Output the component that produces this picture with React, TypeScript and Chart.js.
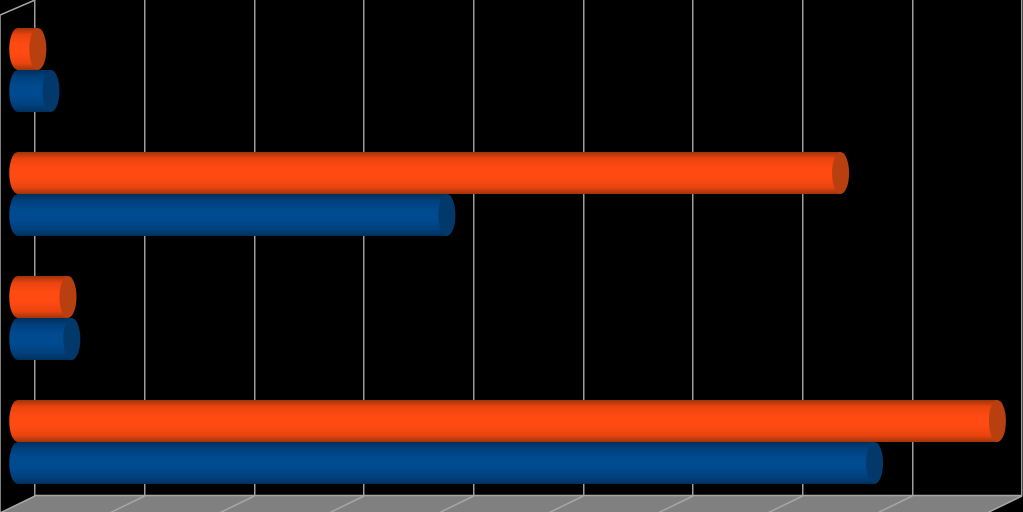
import React, { useEffect, useRef } from 'react';
import Chart from 'chart.js/auto';

// the source chart shows no labels, so categories and units are placeholders
const categories = ['Group 1', 'Group 2', 'Group 3', 'Group 4'];
const orangeValues = [0.19, 7.51, 0.465, 8.94];
const blueValues = [0.31, 3.92, 0.5, 7.82];
const axisMax = 9;

const orangeStops = ['#a03409', '#ea440f', '#ff4a12', '#ff4a12', '#ea440f', '#a03409'];
const blueStops = ['#00305c', '#00407c', '#004a90', '#004a90', '#00407c', '#00305c'];
const stopAt = [0, 0.16, 0.38, 0.62, 0.84, 1];
const capColors = ['#b83f10', '#03386a'];

const categoryShare = 0.677;
const depthX = 35; // how far the floor runs towards the viewer
const depthY = 17;
const capRx = 8.5;

function barFill(c: any) {
  const chart = c.chart;
  const y = chart.scales.y;
  if (!chart.chartArea || !y) return orangeStops[2];
  const band = y.getPixelForValue(1) - y.getPixelForValue(0);
  const h = (band * categoryShare) / 2;
  const top = y.getPixelForValue(c.dataIndex) + (c.datasetIndex - 1) * h;
  const g = chart.ctx.createLinearGradient(0, top, 0, top + h);
  const stops = c.datasetIndex === 0 ? orangeStops : blueStops;
  stops.forEach((s, i) => g.addColorStop(stopAt[i], s));
  return g;
}

// floor and left wall of the 3d box
const boxPlugin = {
  id: 'box',
  beforeDatasetsDraw(chart: any) {
    const { ctx, chartArea, scales } = chart;
    const { left, right, top, bottom } = chartArea;
    ctx.save();
    ctx.fillStyle = '#808080';
    ctx.beginPath();
    ctx.moveTo(left, bottom);
    ctx.lineTo(right, bottom);
    ctx.lineTo(right - depthX, bottom + depthY);
    ctx.lineTo(left - depthX, bottom + depthY);
    ctx.closePath();
    ctx.fill();

    ctx.strokeStyle = '#a6a6a6';
    ctx.lineWidth = 1.5;
    ctx.beginPath();
    ctx.moveTo(left, bottom - 0.5);
    ctx.lineTo(right, bottom - 0.5);
    scales.x.ticks.forEach((t: any) => {
      const px = scales.x.getPixelForValue(t.value);
      ctx.moveTo(px, bottom);
      ctx.lineTo(px - depthX, bottom + depthY);
    });
    ctx.moveTo(left, top);
    ctx.lineTo(left - depthX, top + 15);
    ctx.lineTo(left - depthX, bottom + depthY);
    ctx.stroke();
    ctx.restore();
  },
};

// bars sit halfway into the box depth and get cylinder ends
const cylinderPlugin = {
  id: 'cylinder',
  beforeDatasetDraw(chart: any) {
    chart.ctx.save();
    chart.ctx.translate(-18, 8);
  },
  afterDatasetDraw(chart: any, args: any) {
    const ctx = chart.ctx;
    args.meta.data.forEach((el: any) => {
      const ry = el.height / 2;
      ctx.fillStyle = el.options.backgroundColor;
      ctx.beginPath();
      ctx.ellipse(el.base, el.y, capRx, ry, 0, 0, Math.PI * 2);
      ctx.fill();
      ctx.fillStyle = capColors[args.index];
      ctx.beginPath();
      ctx.ellipse(el.x, el.y, capRx, ry, 0, 0, Math.PI * 2);
      ctx.fill();
    });
    ctx.restore();
  },
};

export default function App() {
  const canvasRef = useRef<HTMLCanvasElement | null>(null);

  useEffect(() => {
    if (!canvasRef.current) return;
    document.body.style.margin = '0';
    document.body.style.background = '#000';

    const chart = new Chart(canvasRef.current, {
      type: 'bar',
      data: {
        labels: categories,
        datasets: [
          { label: 'Series 1', data: orangeValues, backgroundColor: barFill, clip: false },
          { label: 'Series 2', data: blueValues, backgroundColor: barFill, clip: false },
        ],
      } as any,
      options: {
        indexAxis: 'y',
        animation: false,
        responsive: true,
        maintainAspectRatio: false,
        categoryPercentage: categoryShare,
        barPercentage: 1,
        layout: { padding: { left: 35, right: 1, top: 0, bottom: 16 } },
        plugins: { legend: { display: false }, tooltip: { enabled: false } },
        scales: {
          x: {
            min: 0,
            max: axisMax,
            ticks: { display: false, stepSize: 1 },
            grid: { color: '#9c9c9c', lineWidth: 1.5, drawTicks: false },
            border: { display: false },
          },
          y: { display: false },
        },
      } as any,
      plugins: [boxPlugin, cylinderPlugin],
    });

    return () => chart.destroy();
  }, []);

  return (
    <div style={{ width: 1023, height: 512, background: '#000', overflow: 'hidden' }}>
      <canvas ref={canvasRef} />
    </div>
  );
}
